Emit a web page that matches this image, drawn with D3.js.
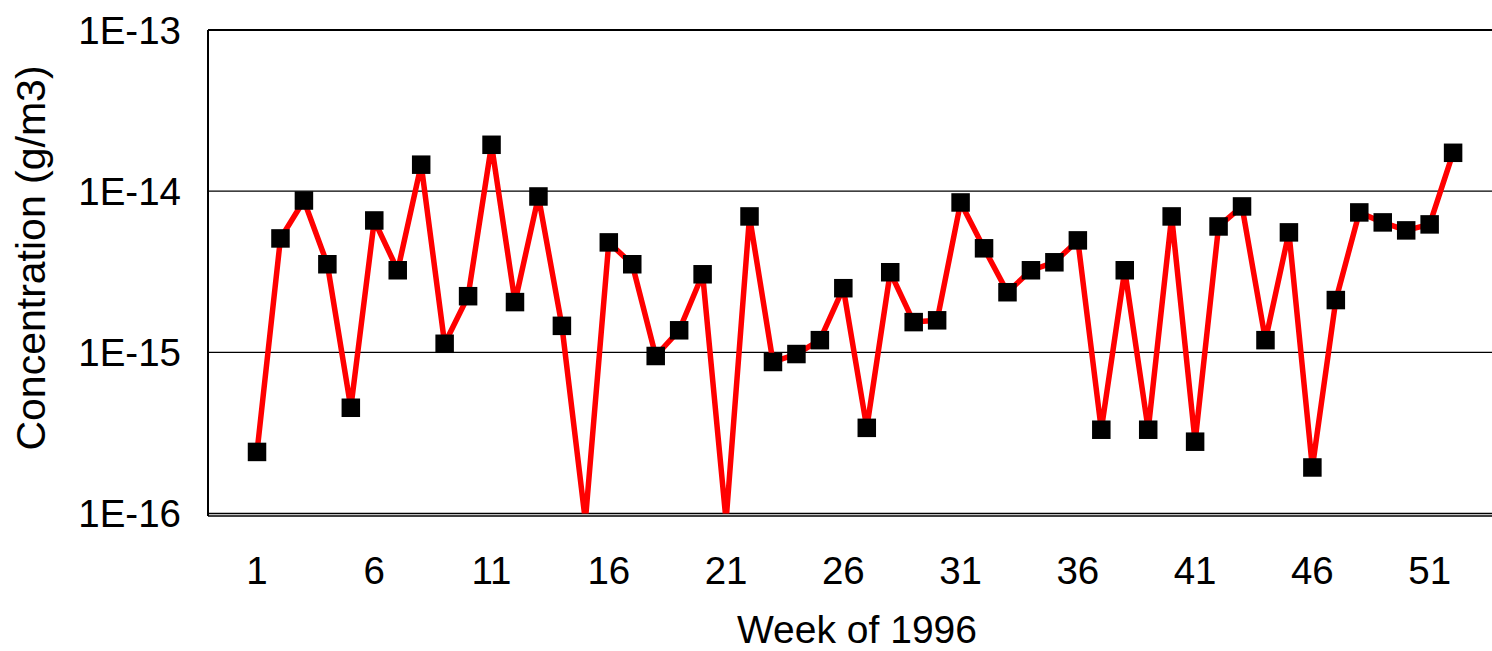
<!DOCTYPE html>
<html>
<head>
<meta charset="utf-8">
<script src="https://cdn.jsdelivr.net/npm/d3@7"></script>
<style>
  html, body { margin: 0; padding: 0; background: #fff; }
  svg { display: block; }
  text { font-family: "Liberation Sans", Arial, sans-serif; fill: #000; }
</style>
</head>
<body>
<svg id="chart" width="1492" height="651"></svg>
<script>
const weeks = d3.range(1, 53);
const concentration = [
  2.41e-16, 5.09e-15, 8.75e-15, 3.52e-15, 4.53e-16, 6.58e-15, 3.23e-15, 1.46e-14, 1.13e-15, 2.23e-15,
  1.94e-14, 2.05e-15, 9.27e-15, 1.46e-15, 9.0e-17, 4.81e-15, 3.52e-15, 9.49e-16, 1.37e-15, 3.05e-15,
  9.0e-17, 6.97e-15, 8.71e-16, 9.76e-16, 1.19e-15, 2.50e-15, 3.40e-16, 3.14e-15, 1.54e-15, 1.58e-15,
  8.51e-15, 4.42e-15, 2.36e-15, 3.23e-15, 3.62e-15, 4.95e-15, 3.31e-16, 3.23e-15, 3.31e-16, 6.97e-15,
  2.79e-16, 6.04e-15, 8.04e-15, 1.19e-15, 5.55e-15, 1.93e-16, 2.11e-15, 7.38e-15, 6.40e-15, 5.71e-15,
  6.22e-15, 1.73e-14
];
const xTickValues = [1, 6, 11, 16, 21, 26, 31, 36, 41, 46, 51];
const yTickValues = [1e-13, 1e-14, 1e-15, 1e-16];
const yTickLabels = ["1E-13", "1E-14", "1E-15", "1E-16"];
const xTitle = "Week of 1996";
const yTitle = "Concentration (g/m3)";

const data = weeks.map((w, i) => ({ week: w, value: concentration[i] }));

const plot = { left: 208, right: 1500, top: 30, bottom: 513.5 };
const svg = d3.select("#chart");

const x = d3.scaleLinear().domain([-1.09, 54.0]).range([plot.left, plot.right]);
const y = d3.scaleLog().domain([1e-16, 1e-13]).range([plot.bottom, plot.top]);

// clip
svg.append("defs").append("clipPath").attr("id", "clip")
  .append("rect").attr("x", plot.left).attr("y", plot.top)
  .attr("width", plot.right - plot.left).attr("height", plot.bottom - plot.top);

// gridlines
svg.append("g").selectAll("line").data(yTickValues).join("line")
  .attr("x1", plot.left).attr("x2", plot.right)
  .attr("y1", d => y(d)).attr("y2", d => y(d))
  .attr("stroke", "#000").attr("stroke-width", 1.3);

// frame: top, left, bottom axis
svg.append("line").attr("x1", plot.left).attr("x2", plot.right)
  .attr("y1", plot.top).attr("y2", plot.top).attr("stroke", "#000").attr("stroke-width", 2);
svg.append("line").attr("x1", plot.left).attr("x2", plot.left)
  .attr("y1", plot.top).attr("y2", plot.bottom + 2.5).attr("stroke", "#000").attr("stroke-width", 2);
svg.append("line").attr("x1", plot.left).attr("x2", plot.right)
  .attr("y1", plot.bottom + 2.5).attr("y2", plot.bottom + 2.5).attr("stroke", "#000").attr("stroke-width", 1.5);

// line
const line = d3.line().x(d => x(d.week)).y(d => y(d.value));
svg.append("path").datum(data)
  .attr("clip-path", "url(#clip)")
  .attr("d", line)
  .attr("fill", "none").attr("stroke", "#ff0000")
  .attr("stroke-width", 5.5).attr("stroke-linejoin", "round");

// markers (only those within axis range)
const ms = 18.5;
svg.append("g").selectAll("rect").data(data.filter(d => d.value >= 1e-16)).join("rect")
  .attr("x", d => x(d.week) - ms / 2).attr("y", d => y(d.value) - ms / 2)
  .attr("width", ms).attr("height", ms).attr("fill", "#000");

// y tick labels
svg.append("g").selectAll("text").data(yTickValues).join("text")
  .attr("x", 181).attr("y", d => y(d)).attr("dy", "0.36em")
  .attr("text-anchor", "end").attr("font-size", 38.5)
  .text((d, i) => yTickLabels[i]);

// x tick labels
svg.append("g").selectAll("text").data(xTickValues).join("text")
  .attr("x", d => x(d)).attr("y", 584)
  .attr("text-anchor", "middle").attr("font-size", 38.5)
  .text(d => d);

// titles
svg.append("text").attr("x", 857).attr("y", 643).attr("text-anchor", "middle")
  .attr("font-size", 39).text(xTitle);
svg.append("text").attr("transform", "translate(31,258) rotate(-90)")
  .attr("text-anchor", "middle").attr("dy", "0.35em")
  .attr("font-size", 41).text(yTitle);
</script>
</body>
</html>
